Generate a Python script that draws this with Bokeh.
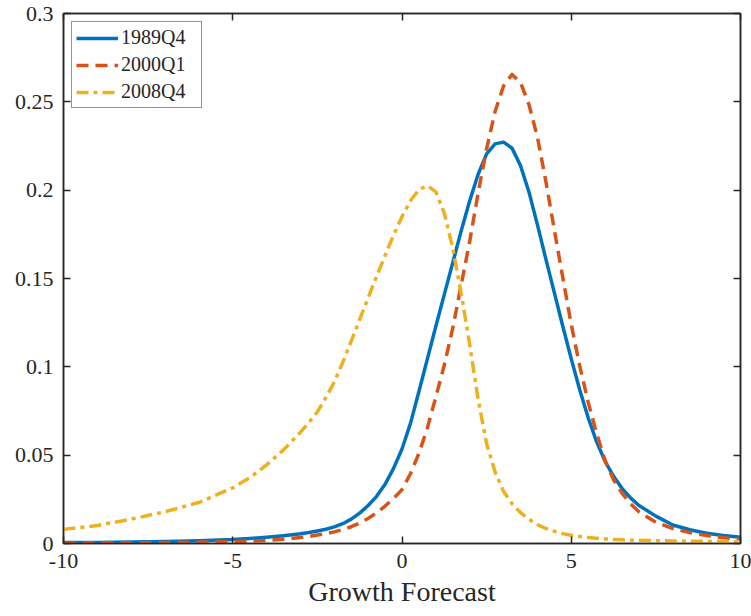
from bokeh.plotting import figure
from bokeh.models import (ColumnDataSource, LinearAxis, FixedTicker, Legend,
                          LegendItem, Range1d)
from bokeh.embed import file_html
from bokeh.resources import INLINE

# ---------------- data ----------------
growth_x = [-10, -9, -8, -7, -6, -5, -4.5, -4, -3.5,
            -3, -2.75, -2.5, -2.25, -2, -1.75, -1.5, -1.25, -1, -0.75, -0.5, -0.25,
            0, 0.25, 0.5, 0.75, 1, 1.25, 1.5, 1.75, 2, 2.25, 2.5, 2.75,
            3, 3.25, 3.5, 3.75, 4, 4.25, 4.5, 4.75, 5, 5.25, 5.5, 5.75,
            6, 6.25, 6.5, 6.75, 7,
            7.5, 8, 8.5, 9, 9.5, 10]

dens_1989Q4 = [0.0005, 0.0006, 0.0008, 0.0011, 0.0015, 0.0022, 0.0028, 0.0035, 0.0044,
               0.0055, 0.0062, 0.0071, 0.0081, 0.0094, 0.0112, 0.0138, 0.0172, 0.0215,
               0.0267, 0.0335, 0.0425,
               0.0535, 0.0680, 0.0860, 0.1045, 0.1230, 0.1410, 0.1590, 0.1770, 0.1940,
               0.2090, 0.2205, 0.2262,
               0.2272, 0.2238, 0.2140, 0.1990, 0.1805, 0.1610, 0.1420, 0.1230, 0.1045,
               0.0870, 0.0712, 0.0575,
               0.0465, 0.0380, 0.0312, 0.0258, 0.0215,
               0.0155, 0.0105, 0.0078, 0.0058, 0.0045, 0.0036]

dens_2000Q1 = [0.0002, 0.0003, 0.0004, 0.0005, 0.0007, 0.0010, 0.0013, 0.0017, 0.0024,
               0.0034, 0.0040, 0.0048, 0.0056, 0.0066, 0.0079, 0.0095, 0.0116, 0.0142,
               0.0174, 0.0212, 0.0255,
               0.0305, 0.0395, 0.0510, 0.0655, 0.0830, 0.1010, 0.1220, 0.1465, 0.1710,
               0.1985, 0.2235, 0.2445,
               0.2590, 0.2655, 0.2610, 0.2485, 0.2300, 0.2050, 0.1775, 0.1505, 0.1240,
               0.1005, 0.0800, 0.0622,
               0.0470, 0.0360, 0.0285, 0.0225, 0.0180,
               0.0120, 0.0085, 0.0062, 0.0045, 0.0033, 0.0025]

dens_2008Q4 = [0.0080, 0.0102, 0.0138, 0.0180, 0.0232, 0.0315, 0.0372, 0.0445, 0.0530,
               0.0630, 0.0685, 0.0745, 0.0825, 0.0915, 0.1025, 0.1145, 0.1268, 0.1390,
               0.1512, 0.1630, 0.1745,
               0.1850, 0.1940, 0.2003, 0.2025, 0.1990, 0.1870, 0.1670, 0.1415, 0.1125,
               0.0815, 0.0565, 0.0405,
               0.0295, 0.0225, 0.0175, 0.0137, 0.0107, 0.0085, 0.0069, 0.0056, 0.0047,
               0.0040, 0.0034, 0.0030,
               0.0026, 0.0023, 0.0021, 0.0019, 0.0018,
               0.0016, 0.0014, 0.0013, 0.0012, 0.0011, 0.0010]

series_names = ["1989Q4", "2000Q1", "2008Q4"]
x_ticks = [-10, -5, 0, 5, 10]
x_tick_labels = ["-10", "-5", "0", "5", "10"]
y_ticks = [0, 0.05, 0.1, 0.15, 0.2, 0.25, 0.3]
y_tick_labels = ["0", "0.05", "0.1", "0.15", "0.2", "0.25", "0.3"]
x_label = "Growth Forecast"

# ---------------- styling ----------------
FONT = "Liberation Serif"
AX = "#262626"
colors = ["#0072BD", "#D95319", "#EDB120"]
dashes = ["solid", "12 7", "12 5 4 5"]

source = ColumnDataSource(data=dict(x=growth_x, a=dens_1989Q4, b=dens_2000Q1, c=dens_2008Q4))

p = figure(width=751, height=616, output_backend="svg", toolbar_location=None,
           x_range=Range1d(-10, 10), y_range=Range1d(0, 0.3),
           min_border_left=63, min_border_right=11, min_border_top=13, min_border_bottom=73)
p.background_fill_color = "white"
p.border_fill_color = "white"
p.outline_line_color = AX
p.outline_line_width = 1.5
p.xgrid.visible = False
p.ygrid.visible = False

renderers = []
for col, color, dash in zip(["a", "b", "c"], colors, dashes):
    r = p.line("x", col, source=source, line_color=color, line_width=3.5,
               line_dash=dash, line_join="round")
    renderers.append(r)


def style_axis(ax, ticks, labels, standoff):
    ax.ticker = FixedTicker(ticks=ticks)
    ax.major_label_overrides = {t: l for t, l in zip(ticks, labels)}
    ax.major_tick_in = 7
    ax.major_tick_out = 0
    ax.minor_tick_line_color = None
    ax.axis_line_color = AX
    ax.axis_line_width = 1.5
    ax.major_tick_line_color = AX
    ax.major_tick_line_width = 1.5
    ax.major_label_text_font = FONT
    ax.major_label_text_font_size = "22px"
    ax.major_label_text_color = AX
    ax.major_label_standoff = standoff


style_axis(p.xaxis[0], x_ticks, x_tick_labels, 10)
style_axis(p.yaxis[0], y_ticks, y_tick_labels, 10)
p.xaxis[0].axis_label = x_label
p.xaxis[0].axis_label_text_font = FONT
p.xaxis[0].axis_label_text_font_size = "28px"
p.xaxis[0].axis_label_text_font_style = "normal"
p.xaxis[0].axis_label_text_color = AX
p.xaxis[0].axis_label_standoff = 5

for loc, ticks, labels in (("above", x_ticks, x_tick_labels), ("right", y_ticks, y_tick_labels)):
    ax = LinearAxis()
    style_axis(ax, ticks, labels, 0)
    ax.major_label_text_font_size = "0px"
    ax.major_label_text_alpha = 0
    p.add_layout(ax, loc)

legend = Legend(items=[LegendItem(label=n, renderers=[r]) for n, r in zip(series_names, renderers)],
                location="top_left", margin=8, padding=4, spacing=4,
                glyph_width=42, glyph_height=20, label_standoff=3, label_width=76,
                label_text_font=FONT, label_text_font_size="20px", label_text_color=AX,
                border_line_color=AX, border_line_width=1.2,
                background_fill_color="white", background_fill_alpha=1)
p.add_layout(legend)

open("out.html", "w").write(file_html(p, INLINE))
